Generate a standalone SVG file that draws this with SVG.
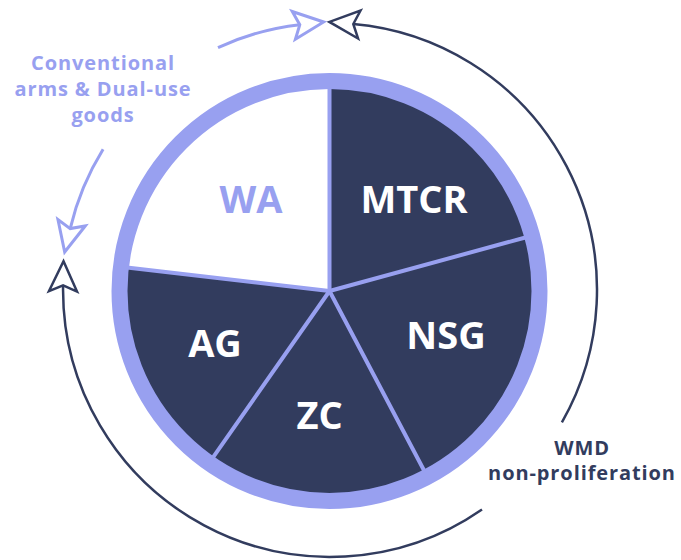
<svg xmlns="http://www.w3.org/2000/svg" width="681" height="560" viewBox="0 0 681 560">
<style>
.dark{fill:#323c5e}
.white{fill:#ffffff}
.sep{stroke:#98a0f0;stroke-width:4;fill:none;stroke-linecap:round}
.ring{fill:none;stroke:#98a0f0;stroke-width:16}
.lbl{font-family:"Open Sans","Liberation Sans",sans-serif;font-weight:700;font-size:38px;text-anchor:middle}
.lw{fill:#ffffff}
.lp{fill:#98a0f0}
.small{font-family:"Open Sans","Liberation Sans",sans-serif;font-weight:700;font-size:20px;letter-spacing:0.9px;text-anchor:middle}
.arcL{fill:none;stroke:#98a0f0;stroke-width:3}
.arcD{fill:none;stroke:#323c5e;stroke-width:2.5}
</style>
<defs>
<marker id="ahL" markerUnits="userSpaceOnUse" markerWidth="44" markerHeight="44" viewBox="-12 -22 44 44" refX="0" refY="0" orient="auto" overflow="visible">
<path d="M-6,-14 L24,0 L-6,14 L0,0 Z" fill="#fff" stroke="#98a0f0" stroke-width="3" stroke-linejoin="miter"/>
</marker>
<marker id="ahD" markerUnits="userSpaceOnUse" markerWidth="44" markerHeight="44" viewBox="-12 -22 44 44" refX="0" refY="0" orient="auto" overflow="visible">
<path d="M-6,-14 L24,0 L-6,14 L0,0 Z" fill="#fff" stroke="#323c5e" stroke-width="2.5" stroke-linejoin="miter"/>
</marker>
</defs>
<rect width="681" height="560" fill="#ffffff"/>

<g id="connectors">
<path class="arcL" d="M218,47.6 A267,267 0 0 1 299.8,24.7" marker-end="url(#ahL)"/>
<path class="arcL" d="M103.1,149.3 A267,267 0 0 0 70.2,228.6" marker-end="url(#ahL)"/>
<path class="arcD" d="M561.9,422.3 A267,267 0 0 0 353.3,24" marker-end="url(#ahD)"/>
<path class="arcD" d="M482,509.5 A267,267 0 0 1 63.1,285.3" marker-end="url(#ahD)"/>
</g>

<g id="node-WA">
<path class="white" d="M329.5,291 L126.9,267.6 A204,204 0 0 1 329.5,87 Z"/>
<text class="lbl lp" x="251" y="213">WA</text>
</g>
<g id="node-MTCR">
<path class="dark" d="M329.5,291 L329.5,87 A204,204 0 0 1 526.3,237.2 Z"/>
<text class="lbl lw" x="414" y="213">MTCR</text>
</g>
<g id="node-NSG">
<path class="dark" d="M329.5,291 L526.3,237.2 A204,204 0 0 1 424.6,471.5 Z"/>
<text class="lbl lw" x="446" y="349">NSG</text>
</g>
<g id="node-ZC">
<path class="dark" d="M329.5,291 L424.6,471.5 A204,204 0 0 1 212.5,458.1 Z"/>
<text class="lbl lw" x="319.5" y="429">ZC</text>
</g>
<g id="node-AG">
<path class="dark" d="M329.5,291 L212.5,458.1 A204,204 0 0 1 126.9,267.6 Z"/>
<text class="lbl lw" x="215" y="357">AG</text>
</g>

<g id="separators">
<line class="sep" x1="329.5" y1="291" x2="329.5" y2="87"/>
<line class="sep" x1="329.5" y1="291" x2="526.3" y2="237.2"/>
<line class="sep" x1="329.5" y1="291" x2="424.6" y2="471.5"/>
<line class="sep" x1="329.5" y1="291" x2="212.5" y2="458.1"/>
<line class="sep" x1="329.5" y1="291" x2="126.9" y2="267.6"/>
</g>

<g id="ring">
<circle class="ring" cx="329.5" cy="291" r="210"/>
</g>

<g id="label-conventional">
<text class="small lp" x="103" y="70">Conventional</text>
<text class="small lp" x="103" y="96">arms &amp; Dual-use</text>
<text class="small lp" x="103" y="122">goods</text>
</g>
<g id="label-wmd">
<text class="small" fill="#323c5e" x="582" y="455">WMD</text>
<text class="small" fill="#323c5e" x="582" y="480">non-proliferation</text>
</g>
</svg>
